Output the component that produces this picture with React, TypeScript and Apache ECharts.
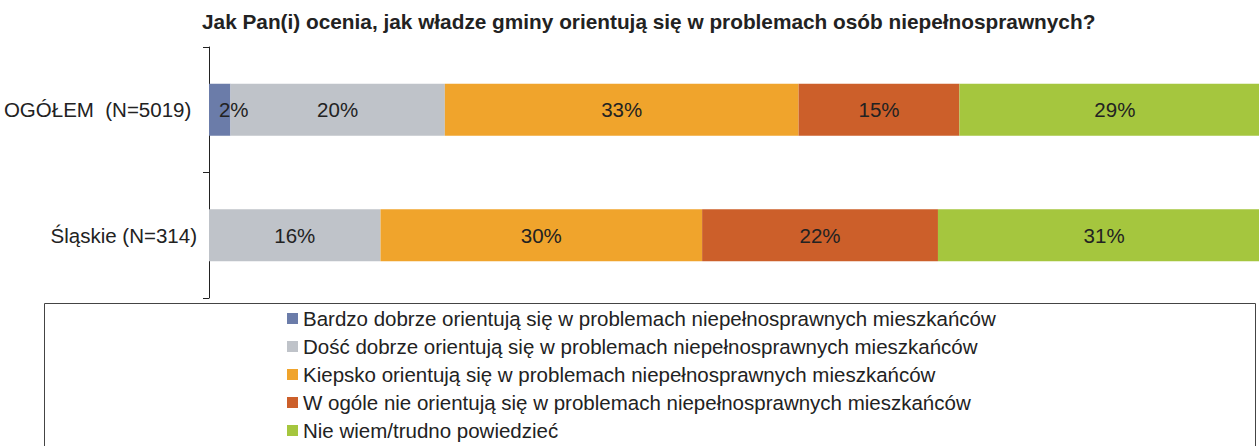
import React, { useEffect, useRef } from "react";
import * as echarts from "echarts";

const TITLE = "Jak Pan(i) ocenia, jak władze gminy orientują się w problemach osób niepełnosprawnych?";
const categories = ["OGÓŁEM  (N=5019) ", "Śląskie (N=314)"];
const seriesNames = [
  "Bardzo dobrze orientują się w problemach niepełnosprawnych mieszkańców",
  "Dość dobrze orientują się w problemach niepełnosprawnych mieszkańców",
  "Kiepsko orientują się w problemach niepełnosprawnych mieszkańców",
  "W ogóle nie orientują się w problemach niepełnosprawnych mieszkańców",
  "Nie wiem/trudno powiedzieć",
];
const bardzoDobrze = [2, 0];
const doscDobrze = [20, 16];
const kiepsko = [33, 30];
const wOgoleNie = [15, 22];
const nieWiem = [29, 31];
const seriesValues = [bardzoDobrze, doscDobrze, kiepsko, wOgoleNie, nieWiem];
const colors = ["#6b7ca9", "#bfc3c9", "#f0a42c", "#cc5f2a", "#a5c63e"];

const FONT = "'Liberation Sans', Arial, sans-serif";
const FS = 20.5;

export default function App() {
  const ref = useRef<HTMLDivElement>(null);
  useEffect(() => {
    if (!ref.current) return;
    const chart = echarts.init(ref.current, null, { renderer: "svg" });
    chart.setOption({
      animation: false,
      textStyle: { fontFamily: FONT },
      title: {
        text: TITLE,
        left: 197,
        top: 6,
        textStyle: { fontFamily: FONT, fontSize: 20.8, fontWeight: "bold", color: "#222" },
      },
      grid: { left: 209, width: 1072, top: 47, bottom: 148, containLabel: false },
      xAxis: {
        type: "value",
        min: 0,
        max: 100,
        show: false,
      },
      yAxis: {
        type: "category",
        data: categories,
        inverse: true,
        axisLine: { show: true, lineStyle: { color: "#222", width: 1 } },
        axisTick: { show: true, length: 6, lineStyle: { color: "#222" } },
        axisLabel: { fontSize: FS, color: "#222", margin: 12, fontFamily: FONT },
      },
      legend: {
        orient: "vertical",
        left: 287,
        top: 308,
        padding: 0,
        itemWidth: 11,
        itemHeight: 11,
        itemGap: 7,
        icon: "rect",
        textStyle: { fontSize: FS, color: "#222", fontFamily: FONT },
        data: seriesNames,
      },
      graphic: [
        {
          type: "rect",
          shape: { x: 44.5, y: 303.5, width: 1211, height: 200 },
          style: { fill: "none", stroke: "#444", lineWidth: 1 },
          silent: true,
          z: -1,
        },
      ],
      series: seriesNames.map((name, i) => ({
        name,
        type: "bar",
        stack: "total",
        barWidth: 52,
        itemStyle: { color: colors[i] },
        label: {
          show: true,
          position: "inside",
          offset: i === 0 ? [14, 0] : [0, 0],
          fontSize: FS,
          color: "#222",
          fontFamily: FONT,
          formatter: (p: any) => (p.value > 0 ? `${p.value}%` : ""),
        },
        data: seriesValues[i],
      })),
    });
    return () => chart.dispose();
  }, []);
  return (
    <div
      style={{ position: "fixed", left: 0, top: 0, width: 1259, height: 446, overflow: "hidden", background: "#fff" }}
    >
      <div ref={ref} style={{ width: 1300, height: 446 }} />
    </div>
  );
}
